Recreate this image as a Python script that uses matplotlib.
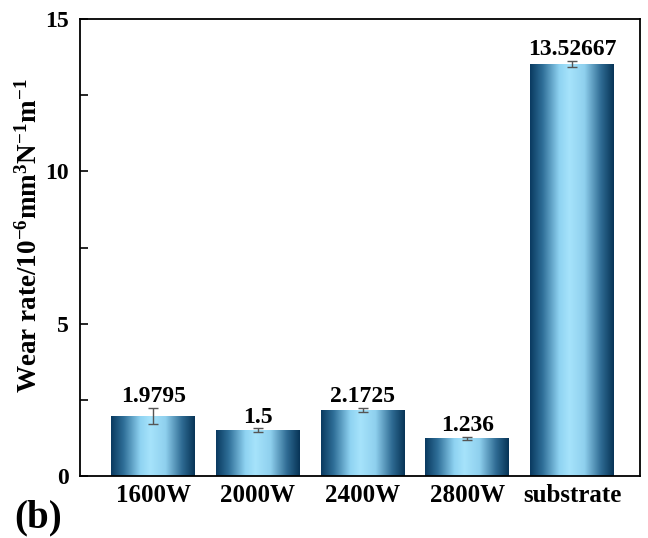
import numpy as np
import matplotlib
matplotlib.use('Agg')
from matplotlib import pyplot as plt
from matplotlib.colors import LinearSegmentedColormap

plt.rcParams['font.family'] = 'Liberation Serif'
plt.rcParams['font.weight'] = 'bold'
plt.rcParams['mathtext.fontset'] = 'custom'
plt.rcParams['mathtext.rm'] = 'Liberation Serif:bold'
plt.rcParams['mathtext.it'] = 'Liberation Serif:bold'
plt.rcParams['mathtext.bf'] = 'Liberation Serif:bold'
plt.rcParams['mathtext.default'] = 'rm'

categories = ['1600W', '2000W', '2400W', '2800W', 'substrate']
wear_rate = [1.9795, 1.5, 2.1725, 1.236, 13.52667]
wear_err = [0.26, 0.06, 0.06, 0.06, 0.1]
value_labels = ['1.9795', '1.5', '2.1725', '1.236', '13.52667']

# dark edges, light cyan centre
bar_cmap = LinearSegmentedColormap.from_list(
    'bar_grad',
    [(0.0, '#0a3a60'), (0.15, '#2f6f98'), (0.35, '#8fd3f2'),
     (0.47, '#a6e3fb'), (0.65, '#8fd0ee'), (0.85, '#2e6a92'), (1.0, '#073456')])

fig = plt.figure(figsize=(6.48, 5.38), dpi=100)
ax = fig.add_axes([0.1235, 0.1152, 0.8642, 0.8495])

x = np.arange(len(categories))
width = 0.8
bars = ax.bar(x, wear_rate, width=width, color='none', edgecolor='none', zorder=2)

grad = np.linspace(0, 1, 256).reshape(1, -1)
for bar in bars:
    x0 = bar.get_x()
    h = bar.get_height()
    im = ax.imshow(grad, cmap=bar_cmap, aspect='auto', extent=[x0, x0 + width, 0, h],
                   zorder=2, interpolation='bicubic')
    im.set_clip_path(bar)

ax.errorbar(x, wear_rate, yerr=wear_err, fmt='none', ecolor='#555555',
            elinewidth=1.0, capsize=3.5, capthick=1.0, zorder=3)

for xi, v, e, lab in zip(x, wear_rate, wear_err, value_labels):
    ax.text(xi, v + e + 0.03, lab, ha='center', va='bottom', fontsize=17,
            fontweight='bold')

ax.set_xlim(-0.7, 4.65)
ax.set_ylim(0, 15)
ax.set_xticks(x)
ax.set_xticklabels(categories, fontsize=18, fontweight='bold')
ax.set_yticks([0, 5, 10, 15])
ax.set_yticks([2.5, 7.5, 12.5], minor=True)
ax.tick_params(axis='y', which='both', direction='in', length=6, width=1.2,
               labelsize=17, pad=8)
ax.tick_params(axis='x', length=0, pad=6)
for lbl in ax.get_yticklabels():
    lbl.set_fontweight('bold')
for s in ax.spines.values():
    s.set_linewidth(1.3)

# y label anchored at its lower end
fig.text(0.046, 0.2695, 'Wear rate/10$^{-6}$mm$^{3}$N$^{-1}$m$^{-1}$', fontsize=19.5,
         fontweight='bold', rotation=90, ha='center', va='bottom')

fig.text(0.022, 0.019, '(b)', fontsize=28, fontweight='bold', ha='left', va='baseline')

fig.savefig('out.png', dpi=100)
